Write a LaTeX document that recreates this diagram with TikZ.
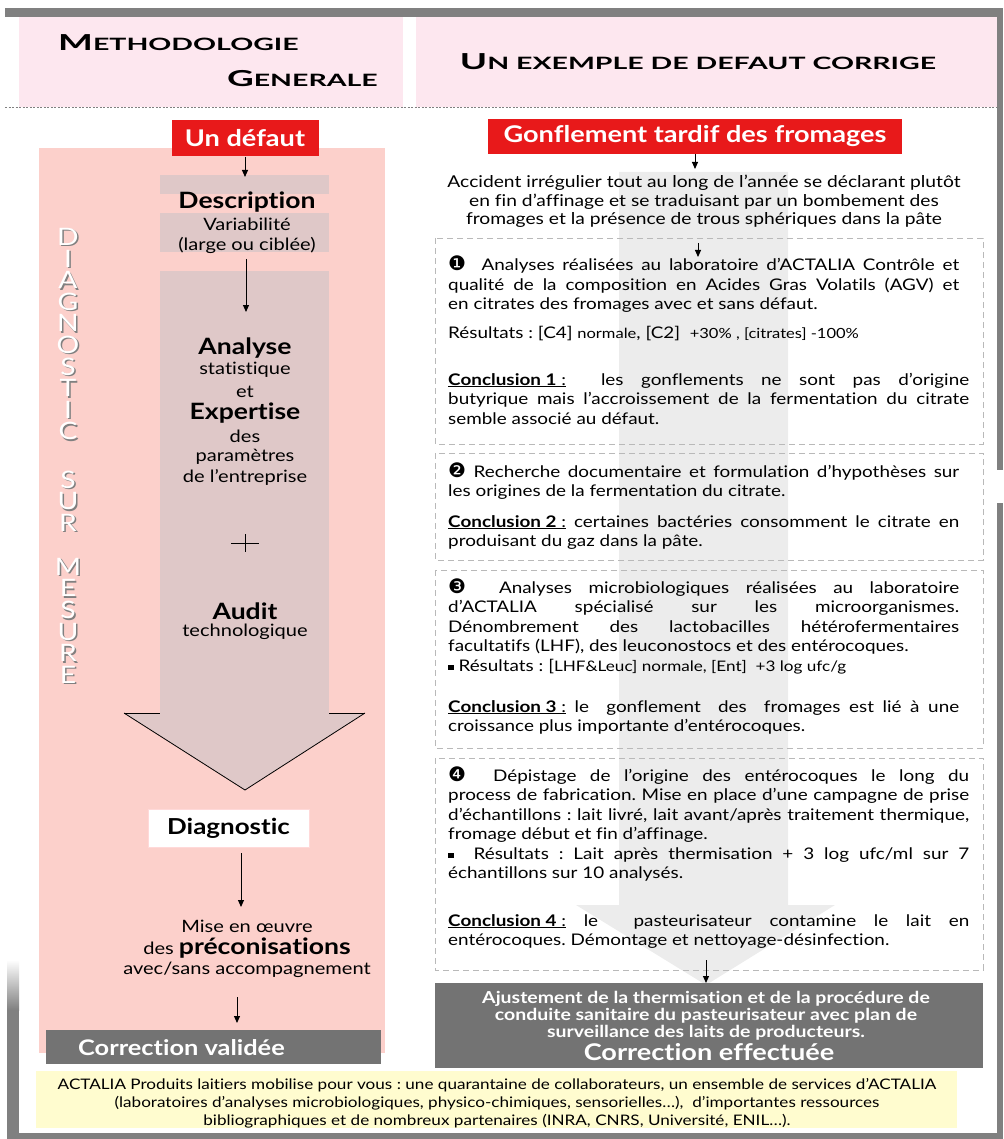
\documentclass[tikz,border=0pt]{standalone}
\usepackage{graphicx}
\usepackage{fontspec}
\setmainfont{Lato}[FakeStretch=1.18, Ligatures=NoCommon]
\newfontfamily\dingfont{DejaVu Sans}
\usetikzlibrary{arrows.meta}
\definecolor{hdrpink}{RGB}{253,231,239}
\definecolor{leftpink}{RGB}{252,208,203}
\definecolor{colgray}{RGB}{223,200,200}
\definecolor{alertred}{RGB}{232,25,26}
\definecolor{lightcol}{RGB}{236,236,236}
\definecolor{darkbox}{RGB}{115,115,115}
\definecolor{bargray}{RGB}{128,128,128}
\definecolor{footyellow}{RGB}{255,252,207}
\definecolor{dashgray}{RGB}{185,185,185}
\newcommand{\fs}[2]{\fontsize{#1}{#2}\selectfont}
\newcommand{\ding}[1]{{\dingfont\fs{20}{20}#1}}
\newcommand{\sq}{\rule[1pt]{5.5pt}{5.5pt}}
\newcommand{\concl}[1]{\underline{\textbf{Conclusion #1} :}}
\newcommand{\hcaps}[2]{\scalebox{1.42}[1]{{\fs{22}{22}#1}{\fs{17}{17}#2}}}
\newcommand{\shl}[1]{\makebox[0pt][l]{\kern1.5pt\raisebox{-1.5pt}{\textcolor{gray}{#1}}}\textcolor{white}{#1}}
\frenchspacing
\begin{document}
\begin{tikzpicture}[x=1pt,y=-1pt,
  arr/.style={-{Triangle[length=7pt,width=6pt]}, line width=1pt},
  redbox/.style={fill=alertred, text=white, font=\fs{23}{26}\bfseries, inner sep=0pt},
  ltxt/.style={font=\fs{17}{20}, inner sep=0pt},
  lbold/.style={font=\fs{22.5}{24}\bfseries, inner sep=0pt},
  para/.style={anchor=base west, inner sep=0pt, font=\fs{16}{19.5}},
  dbox/.style={draw=dashgray, dash pattern=on 6pt off 4pt, line width=0.9pt},
  hdr/.style={inner sep=0pt, font=\bfseries},
  wbold/.style={text=white, inner sep=0pt, font=\fs{16.5}{17}\bfseries},
]
\useasboundingbox (0,0) rectangle (1003,1139);

% frame bars
\fill[bargray] (5,8) rectangle (1003,17);
\fill[bargray] (997,8) rectangle (1003,470);
\fill[bargray] (997,503) rectangle (1003,1139);
\shade[top color=white, bottom color=bargray] (7,960) rectangle (19,1010);
\fill[bargray] (7,1010) rectangle (19,1139);
\fill[bargray] (19,1133) rectangle (1003,1139);

% header
\fill[hdrpink] (19,17) rectangle (403,107);
\fill[hdrpink] (416,17) rectangle (997,107);
\draw[gray, dash pattern=on 2pt off 1.5pt, line width=0.6pt] (5,107) -- (997,107);
\node[hdr, anchor=base west] (h1) at (58,51) {\hcaps{M}{ETHODOLOGIE}};
\node[hdr, anchor=base east] (h2) at (378,87) {\hcaps{G}{ENERALE}};
\node[hdr, anchor=base] (h3) at (698,70) {\hcaps{U}{N EXEMPLE DE DEFAUT CORRIGE}};

% ---------------- left column
\fill[leftpink] (39,148) rectangle (385,1053);
\fill[colgray] (160,175) rectangle (329,194);
\fill[colgray] (160,213) rectangle (329,252);
\fill[colgray] (160,271) rectangle (329,713);
\fill[colgray] (124,713) -- (365,713) -- (245,790) -- cycle;
\draw[line width=0.8pt] (124,713) -- (160,713);
\draw[line width=0.8pt] (329,713) -- (365,713);
\draw[line width=0.8pt] (124,713) -- (245,790) -- (365,713);

\node[inner sep=0pt, anchor=base] (vtext) at (68,245.5) {\parbox[t]{30pt}{\centering\fs{24}{21.6}%
\shl{D}\\\shl{I}\\\shl{A}\\\shl{G}\\\shl{N}\\\shl{O}\\\shl{S}\\\shl{T}\\\shl{I}\\\shl{C}\\[26.5pt]%
\shl{S}\\\shl{U}\\\shl{R}\\[22.5pt]%
\shl{M}\\\shl{E}\\\shl{S}\\\shl{U}\\\shl{R}\\\shl{E}}};

\node[redbox, minimum width=147pt, minimum height=36pt] (defaut) at (245,138.5) {Un défaut};
\coordinate (d1) at (245,177);
\draw[arr] (defaut.south) -- (d1);

\node[lbold] (desc) at (247,202) {Description};
\node[ltxt] (var) at (247,224) {Variabilité};
\node[ltxt] (large) at (247,245) {(large ou ciblée)};
\coordinate (a0) at (246,259);
\coordinate (a1) at (246,312);
\draw[arr] (a0) -- (a1);

\node[lbold] (analyse) at (245,348) {Analyse};
\node[ltxt] (stat) at (245,370) {statistique};
\node[ltxt] (et) at (245,392) {et};
\node[lbold] (expert) at (245,413) {Expertise};
\node[ltxt] (des) at (245,436) {des};
\node[ltxt] (param) at (245,457) {paramètres};
\node[ltxt] (entr) at (245,477) {de l’entreprise};
\coordinate (p0) at (231,543);
\coordinate (p1) at (259,543);
\coordinate (p2) at (245,534);
\coordinate (p3) at (245,552);
\draw[line width=0.8pt] (p0) -- (p1);
\draw[line width=0.8pt] (p2) -- (p3);
\node[lbold] (audit) at (245,611) {Audit};
\node[ltxt] (techno) at (245,632) {technologique};

\node[fill=white, draw=pink!60, line width=0.8pt, minimum width=161pt, minimum height=38pt, inner sep=0pt, font=\fs{22}{24}\bfseries] (diag) at (228.5,828) {Diagnostic};
\coordinate (m_a) at (241,853);
\coordinate (m0) at (241,907);
\draw[arr] (m_a) -- (m0);

\node[ltxt] (mise1) at (247,926) {Mise en œuvre};
\node[ltxt] (mise2) at (247,948) {des {\fs{22.5}{24}\bfseries préconisations}};
\node[ltxt] (mise3) at (247,970) {avec/sans accompagnement};
\coordinate (c0) at (237,997);
\coordinate (c1) at (237,1023);
\draw[arr] (c0) -- (c1);

\fill[darkbox] (46,1030) rectangle (381,1064);
\node[text=white, inner sep=0pt, anchor=base west, font=\fs{21.5}{24}\bfseries] (cval) at (78,1055) {Correction validée};

% ---------------- right column
\fill[lightcol] (619,172) -- (788,172) -- (788,905) -- (835,905) -- (706,985) -- (576,905) -- (619,905) -- cycle;

\node[redbox, minimum width=414pt, minimum height=35pt] (gonf) at (695,136.5) {Gonflement tardif des fromages};
\coordinate (g1) at (695,169);
\draw[arr] (gonf.south) -- (g1);

\node[inner sep=0pt, font=\fs{16.3}{18.5}, anchor=base] (acc) at (704,188) {\parbox[t]{580pt}{\centering Accident irrégulier tout au long de l'année se déclarant plutôt\\ en fin d'affinage et se traduisant par un bombement des\\ fromages et la présence de trous sphériques dans la pâte}};

\draw[dbox] (435,238) rectangle (983,444);
\draw[dbox] (435,453) rectangle (983,560);
\draw[dbox] (435,570) rectangle (983,748);
\draw[dbox] (435,758) rectangle (983,970);

\coordinate (b0) at (698,243);
\coordinate (b1) at (698,257);
\draw[arr] (b0) -- (b1);

% box 1
\node[para] (t1) at (448,271) {\parbox[t]{511pt}{\ding{❶}\ \ Analyses réalisées au laboratoire d’ACTALIA Contrôle et\linebreak qualité de la composition en Acides Gras Volatils (AGV) et\linebreak en citrates des fromages avec et sans défaut.}};
\node[para] (r1) at (448,338) {Résultats : [C4] {\fs{14}{16}normale}, [C2]\ \ {\fs{14}{16}+30\% , [citrates] -100\%}};
\node[para] (k1) at (448,385) {\parbox[t]{521pt}{\concl{1}\ \ les gonflements ne sont pas d’origine\linebreak butyrique mais l'accroissement de la fermentation du citrate\linebreak semble associé au défaut.}};

% box 2
\node[para] (t2) at (448,477) {\parbox[t]{511pt}{\ding{❷}\ Recherche documentaire et formulation d’hypothèses sur\linebreak les origines de la fermentation du citrate.}};
\node[para] (k2) at (448,527) {\parbox[t]{511pt}{\concl{2} certaines bactéries consomment le citrate en\linebreak produisant du gaz dans la pâte.}};

% box 3
\node[para] (t3) at (448,593) {\parbox[t]{511pt}{\ding{❸}\ \ Analyses microbiologiques réalisées au laboratoire\linebreak d’ACTALIA spécialisé sur les microorganismes.\linebreak Dénombrement des lactobacilles hétérofermentaires\linebreak facultatifs (LHF), des leuconostocs et des entérocoques.\\ \sq\ Résultats : [{\fs{14.5}{16}LHF\&Leuc] normale, [Ent]\ \ +3 log ufc/g}}};
\node[para] (k3) at (448,712) {\parbox[t]{511pt}{\concl{3} le\ \ gonflement\ \ des\ \ fromages est lié à une\linebreak croissance plus importante d'entérocoques.}};

% box 4
\node[para] (t4) at (448,781) {\parbox[t]{521pt}{\ding{❹}\ \ Dépistage de l'origine des entérocoques le long du\linebreak process de fabrication. Mise en place d'une campagne de prise\linebreak d'échantillons : lait livré, lait avant/après traitement thermique,\linebreak fromage début et fin d'affinage.\\ \sq\ \ Résultats : Lait après thermisation + 3 log ufc/ml sur 7\linebreak échantillons sur 10 analysés.}};
\node[para] (k4) at (448,926) {\parbox[t]{521pt}{\concl{4}\ le\ \ pasteurisateur contamine le lait en\linebreak entérocoques. Démontage et nettoyage-désinfection.}};

\coordinate (e0) at (706,960);
\coordinate (e1) at (706,983);
\draw[arr] (e0) -- (e1);

\fill[darkbox] (435,983) rectangle (983,1068);
\node[wbold, anchor=base] (aj1) at (706,1003) {Ajustement de la thermisation et de la procédure de};
\node[wbold, anchor=base] (aj2) at (706,1020) {conduite sanitaire du pasteurisateur avec plan de};
\node[wbold, anchor=base] (aj3) at (706,1037) {surveillance des laits de producteurs.};
\node[text=white, inner sep=0pt, anchor=base, font=\fs{23}{24}\bfseries] (ceff) at (709,1060) {Correction effectuée};

% footer
\fill[footyellow] (36,1071) rectangle (957,1128);
\node[inner sep=0pt, anchor=base, font=\fs{14.5}{18}] (foot) at (497,1089) {\parbox[t]{915pt}{\centering ACTALIA Produits laitiers mobilise pour vous : une quarantaine de collaborateurs, un ensemble de services d’ACTALIA\\ (laboratoires d’analyses microbiologiques, physico-chimiques, sensorielles…),\ \ d’importantes ressources\\ bibliographiques et de nombreux partenaires (INRA, CNRS, Université, ENIL…).}};
\end{tikzpicture}
\end{document}
